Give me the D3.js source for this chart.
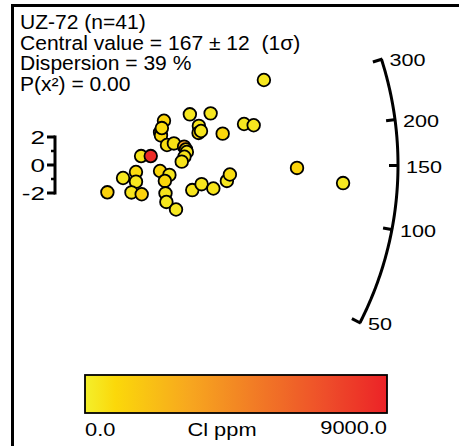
<!DOCTYPE html>
<html>
<head>
<meta charset="utf-8">
<script src="https://cdn.jsdelivr.net/npm/d3@7"></script>
<style>
  body { margin: 0; background: #fff; }
  svg { display: block; }
  text { font-family: "Liberation Sans", Arial, Helvetica, sans-serif; fill: #000; }
</style>
</head>
<body>
<svg id="chart" width="459" height="446"></svg>
<script>
// Sample summary
const sampleName = "UZ-72";
const grainCount = 41;
const centralAge = 167;
const centralErr = 12;
const dispersionPct = 39;
const pChi2 = "0.00";

// Single-grain data: precision (1/σ), standardised estimate (z) and Cl content (ppm)
const precision = [7.04, 6.38, 6.70, 8.14, 9.67, 5.67, 5.27, 4.58, 3.72, 3.59,
                   3.62, 3.82, 4.05, 4.39, 3.65, 4.45, 4.48, 4.40, 4.31, 4.88,
                   4.87, 4.95, 2.96, 3.28, 1.84, 2.36, 2.79, 2.79, 2.64, 2.98,
                   3.59, 3.90, 3.75, 3.77, 3.80, 4.12, 4.66, 4.97, 5.36, 5.81, 5.91];
const stdEstimate = [6.07, 2.93, 2.84, -0.21, -1.29, 2.24, 3.69, 3.62, 3.16, 2.34,
                     2.11, 1.43, 1.54, 1.31, 2.64, 1.11, 0.93, 0.59, 0.24, 2.79,
                     2.29, 2.43, 0.64, 0.64, -1.95, -0.93, -0.50, -1.19, -1.96, -2.09,
                     -0.43, -0.71, -1.14, -2.02, -2.64, -3.18, -1.79, -1.37, -1.68, -1.14, -0.68];
const clPpm = [320, 300, 330, 1100, 280, 1000, 310, 300, 1050, 1150,
               900, 700, 600, 3300, 800, 700, 420, 500, 450, 400,
               900, 380, 380, 8600, 1200, 300, 800, 350, 420, 1150,
               1000, 350, 900, 420, 330, 300, 420, 380, 450, 300, 700];

// Age axis (Ma) along the arc, standardised-estimate axis at the origin
const ageTicks = [50, 100, 150, 200, 300];
const ageRange = [50, 300];
const refAge = 150.5;
const zMinorTicks = [-1, 1];
const zMajorTicks = [-2, 0, 2];

// Colour ramp for Cl
const clDomain = [0, 9000];
const clStops = [0, 900, 3000, 5000, 7000, 9000];
const clColours = ["#f3ef2b", "#fbd80a", "#f7a91e", "#f27d25", "#ee522a", "#ec2227"];
const clTitle = "Cl ppm";

const svg = d3.select("#chart");

// frame (top and left edges)
svg.append("path")
  .attr("d", "M12.5,446V5.5H459")
  .attr("fill", "none").attr("stroke", "#000").attr("stroke-width", 3);

// header text
const header = [
  `${sampleName} (n=${grainCount})`,
  `Central value = ${centralAge} \u00b1 ${centralErr}\u00a0\u00a0(1\u03c3)`,
  `Dispersion = ${dispersionPct} %`,
  `P(x\u00b2) = ${pChi2}`
];
header.forEach((t, i) => {
  svg.append("g")
    .attr("transform", `translate(20,${29 + i * 20.5}) scale(1.08,1)`)
    .append("text")
    .attr("font-size", 19.5)
    .text(t);
});

// scales
const x = d3.scaleLinear().domain([0, 11.5]).range([52, 52 + 346.15]);
const y = d3.scaleLinear().domain([-2, 2]).range([193, 137]);
const R = 346;
const ox = x(0), oy = y(0);
const ageToSlope = d3.scaleLog().domain([refAge, refAge * Math.E]).range([0, 1]);

function arcPoint(age, r) {
  const s = ageToSlope(age);
  const dx = x(1) - x(0);
  const dy = y(s) - y(0);
  const a = Math.atan2(dy, dx);
  return [ox + r * Math.cos(a), oy + r * Math.sin(a)];
}

// age arc
const arcAges = d3.range(0, 101).map(i => ageRange[0] * Math.pow(ageRange[1] / ageRange[0], i / 100));
svg.append("path")
  .attr("d", d3.line()(arcAges.map(a => arcPoint(a, R))))
  .attr("fill", "none").attr("stroke", "#000").attr("stroke-width", 3);

ageTicks.forEach(a => {
  const p0 = arcPoint(a, R - 9), p1 = arcPoint(a, R + 1);
  svg.append("line")
    .attr("x1", p0[0]).attr("y1", p0[1]).attr("x2", p1[0]).attr("y2", p1[1])
    .attr("stroke", "#000").attr("stroke-width", 3);
  const pl = arcPoint(a, R);
  svg.append("g")
    .attr("transform", `translate(${pl[0] + 8},${pl[1] + 7}) scale(1.27,1)`)
    .append("text")
    .attr("font-size", 17)
    .text(a);
});

// standardised estimate axis
const zx = 55;
svg.append("line")
  .attr("x1", zx).attr("x2", zx).attr("y1", y(2) - 1.5).attr("y2", y(-2) + 1.5)
  .attr("stroke", "#000").attr("stroke-width", 3);
zMajorTicks.forEach(z => {
  svg.append("line")
    .attr("x1", zx - 8).attr("x2", zx).attr("y1", y(z)).attr("y2", y(z))
    .attr("stroke", "#000").attr("stroke-width", 3);
  svg.append("g")
    .attr("transform", `translate(45,${y(z) + 6.5}) scale(1.45,1)`)
    .append("text")
    .attr("font-size", 18)
    .attr("text-anchor", "end")
    .text(z);
});
zMinorTicks.forEach(z => {
  svg.append("line")
    .attr("x1", zx - 4).attr("x2", zx).attr("y1", y(z)).attr("y2", y(z))
    .attr("stroke", "#000").attr("stroke-width", 2.5);
});

// colour scale
const colour = d3.scaleLinear().domain(clStops).range(clColours).clamp(true);

// grains
svg.append("g").selectAll("circle")
  .data(precision.map((p, i) => ({ p, z: stdEstimate[i], cl: clPpm[i] })))
  .join("circle")
  .attr("cx", d => x(d.p))
  .attr("cy", d => y(d.z))
  .attr("r", 6.3)
  .attr("fill", d => colour(d.cl))
  .attr("stroke", "#000")
  .attr("stroke-width", 1.8);

// colour bar
const barX = d3.scaleLinear().domain(clDomain).range([85, 387]);
const defs = svg.append("defs");
const grad = defs.append("linearGradient").attr("id", "clGrad")
  .attr("x1", "0%").attr("x2", "100%").attr("y1", "0%").attr("y2", "0%");
d3.range(0, 21).forEach(i => {
  const v = clDomain[0] + (clDomain[1] - clDomain[0]) * i / 20;
  grad.append("stop").attr("offset", `${i * 5}%`).attr("stop-color", colour(v));
});
svg.append("rect")
  .attr("x", barX(clDomain[0])).attr("y", 375)
  .attr("width", barX(clDomain[1]) - barX(clDomain[0])).attr("height", 38)
  .attr("fill", "url(#clGrad)")
  .attr("stroke", "#000").attr("stroke-width", 1.8);

const barLabels = [
  { t: clDomain[0].toFixed(1), xx: barX(clDomain[0]), anchor: "start", yy: 436 },
  { t: clTitle, xx: (barX(clDomain[0]) + barX(clDomain[1])) / 2 - 14, anchor: "middle", yy: 436 },
  { t: clDomain[1].toFixed(1), xx: barX(clDomain[1]), anchor: "end", yy: 434 }
];
barLabels.forEach(l => {
  svg.append("g")
    .attr("transform", `translate(${l.xx},${l.yy}) scale(1.18,1)`)
    .append("text")
    .attr("font-size", 18.5)
    .attr("text-anchor", l.anchor)
    .text(l.t);
});
</script>
</body>
</html>
